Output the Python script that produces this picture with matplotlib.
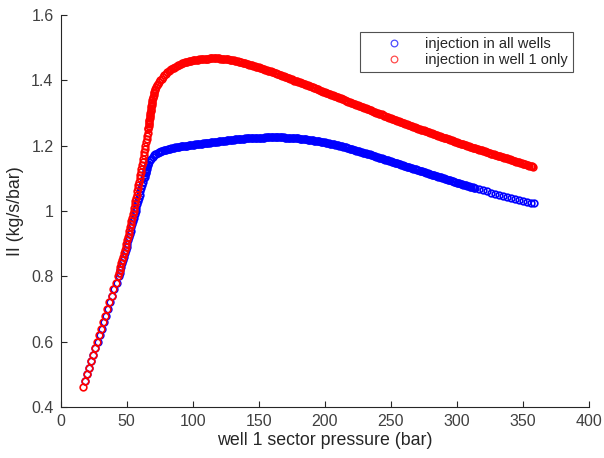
import matplotlib
matplotlib.use("Agg")
import matplotlib.pyplot as plt

# Injectivity index vs. well 1 sector pressure
# --- injection in all wells ---
all_wells_pressure = [
    18.5, 20.0, 21.6, 23.2, 24.8, 26.4, 28.0, 29.6, 31.2, 32.8, 34.4, 36.0, 37.6, 39.2, 40.8, 42.4,
    44.0, 44.7, 45.4, 46.1, 46.8, 47.5, 48.2, 48.9, 49.5, 50.1, 50.7, 51.3, 51.9, 52.5, 53.1, 53.7,
    54.3, 54.9, 55.6, 56.2, 56.8, 57.4, 58.0, 58.6, 59.2, 59.8, 60.5, 61.2, 61.9, 62.6,
    63.3, 63.65, 64.0, 64.35, 64.7, 65.05, 65.4, 65.75, 66.1, 66.5, 67.0, 67.7, 68.6, 69.7, 71.0,
    71.8, 72.6, 73.5, 74.4, 75.4, 76.4, 77.2,
    78, 79, 80, 81, 82, 83, 84, 85, 86, 87, 88, 89, 90, 91, 92, 93, 94, 95, 96, 97,
    98, 99, 100, 101, 102, 103, 104, 105, 106, 107, 108, 109, 110, 111, 112, 113, 114, 115, 116, 117,
    118, 119, 120, 121, 122, 123, 124, 125, 126, 127, 128, 129, 130, 131, 132, 133, 134, 135, 136, 137,
    138, 139, 140, 141, 142, 143, 144, 145, 146, 147, 148, 149, 150, 151, 152, 153, 154, 155, 156, 157,
    158, 159, 160, 161, 162, 163, 164, 165, 166, 167, 168, 169, 170, 171, 172, 173, 174, 175, 176, 177,
    178, 179, 180, 181, 182, 183, 184, 185, 186, 187, 188, 189, 190, 191, 192, 193, 194, 195, 196, 197,
    198, 199, 200, 201, 202, 203, 204, 205, 206, 207, 208, 209, 210, 211, 212, 213, 214, 215, 216, 217,
    218, 219, 220, 221, 222, 223, 224, 225, 226, 227, 228, 229, 230, 231, 232, 233, 234, 235, 236, 237,
    238, 239, 240, 241, 242, 243, 244, 245, 246, 247, 248, 249, 250, 251, 252, 253, 254, 255, 256, 257,
    258, 259, 260, 261, 262, 263, 264, 265, 266, 267, 268, 269, 270, 271, 272, 273, 274, 275, 276, 277,
    278, 279, 280, 281, 282, 283, 284, 285, 286, 287, 288, 289, 290, 291, 292, 293, 294, 295, 296, 297,
    298, 299, 300, 301, 302, 303, 304, 305, 306, 307, 308, 309, 310, 311, 312, 313, 314,
    317, 320, 323, 326, 329, 332, 335, 338, 341, 344, 347, 350, 353, 356, 358.5,
]
all_wells_ii = [
    0.480, 0.500, 0.520, 0.540, 0.560, 0.580, 0.600, 0.620, 0.640, 0.660, 0.680, 0.700, 0.720, 0.740, 0.760, 0.780,
    0.800, 0.810, 0.820, 0.830, 0.840, 0.850, 0.860, 0.870, 0.880, 0.890, 0.900, 0.910, 0.920, 0.930, 0.940, 0.950,
    0.960, 0.970, 0.980, 0.990, 1.000, 1.010, 1.020, 1.030, 1.040, 1.050, 1.060, 1.070, 1.080, 1.090,
    1.100, 1.105, 1.110, 1.115, 1.120, 1.125, 1.130, 1.135, 1.140, 1.145, 1.150, 1.155, 1.160, 1.165, 1.170,
    1.173, 1.175, 1.178, 1.180, 1.182, 1.184, 1.185,
    1.1860, 1.1870, 1.1880, 1.1890, 1.1900, 1.1910, 1.1920, 1.1930, 1.1940, 1.1945,
    1.1950, 1.1960, 1.1970, 1.1975, 1.1980, 1.1985, 1.1990, 1.1995, 1.2000, 1.2010,
    1.2020, 1.2025, 1.2030, 1.2035, 1.2040, 1.2045, 1.2050, 1.2055, 1.2060, 1.2065,
    1.2070, 1.2075, 1.2080, 1.2085, 1.2090, 1.2095, 1.2100, 1.2105, 1.2110, 1.2115,
    1.2120, 1.2125, 1.2130, 1.2135, 1.2140, 1.2145, 1.2150, 1.2155, 1.2160, 1.2165,
    1.2170, 1.2175, 1.2180, 1.2185, 1.2190, 1.2195, 1.2200, 1.2200, 1.2200, 1.2205,
    1.2210, 1.2215, 1.2220, 1.2225, 1.2230, 1.2230, 1.2230, 1.2235, 1.2240, 1.2240,
    1.2240, 1.2245, 1.2250, 1.2250, 1.2250, 1.2250, 1.2250, 1.2255, 1.2260, 1.2260,
    1.2260, 1.2260, 1.2260, 1.2260, 1.2260, 1.2260, 1.2260, 1.2260, 1.2260, 1.2260,
    1.2260, 1.2255, 1.2250, 1.2250, 1.2250, 1.2245, 1.2240, 1.2240, 1.2240, 1.2235,
    1.2230, 1.2225, 1.2220, 1.2215, 1.2210, 1.2205, 1.2200, 1.2195, 1.2190, 1.2185,
    1.2180, 1.2175, 1.2170, 1.2160, 1.2150, 1.2145, 1.2140, 1.2135, 1.2130, 1.2120,
    1.2110, 1.2105, 1.2100, 1.2090, 1.2080, 1.2070, 1.2060, 1.2055, 1.2050, 1.2040,
    1.2030, 1.2020, 1.2010, 1.2000, 1.1990, 1.1980, 1.1970, 1.1960, 1.1950, 1.1935,
    1.1920, 1.1910, 1.1900, 1.1890, 1.1880, 1.1865, 1.1850, 1.1840, 1.1830, 1.1815,
    1.1800, 1.1790, 1.1780, 1.1765, 1.1750, 1.1740, 1.1730, 1.1715, 1.1700, 1.1690,
    1.1680, 1.1665, 1.1650, 1.1635, 1.1620, 1.1610, 1.1600, 1.1585, 1.1570, 1.1560,
    1.1550, 1.1535, 1.1520, 1.1505, 1.1490, 1.1480, 1.1470, 1.1455, 1.1440, 1.1430,
    1.1420, 1.1405, 1.1390, 1.1375, 1.1360, 1.1350, 1.1340, 1.1325, 1.1310, 1.1300,
    1.1290, 1.1275, 1.1260, 1.1245, 1.1230, 1.1220, 1.1210, 1.1195, 1.1180, 1.1170,
    1.1160, 1.1145, 1.1130, 1.1115, 1.1100, 1.1090, 1.1080, 1.1065, 1.1050, 1.1040,
    1.1030, 1.1015, 1.1000, 1.0985, 1.0970, 1.0960, 1.0950, 1.0935, 1.0920, 1.0910,
    1.0900, 1.0885, 1.0870, 1.0860, 1.0850, 1.0835, 1.0820, 1.0810, 1.0800, 1.0785,
    1.0770, 1.0760, 1.0750, 1.0740, 1.0730, 1.0715, 1.0700,
    1.067, 1.063, 1.060, 1.056, 1.053, 1.050, 1.047, 1.044, 1.041, 1.038, 1.035, 1.032, 1.029, 1.026, 1.023,
]

# --- injection in well 1 only ---
well1_pressure = [
    16.8, 18.2, 19.8, 21.3, 22.9, 24.5, 26.0, 27.6, 29.2, 30.7, 32.3, 33.9, 35.4, 37.0, 38.6, 40.1, 41.7,
    43.3, 44.0, 44.7, 45.4, 46.1, 46.8, 47.4, 48.0, 48.7, 49.3, 49.9, 50.4, 51.0, 51.6, 52.1, 52.7,
    53.2, 53.7, 54.2, 54.7, 55.3, 55.7, 56.2, 56.7, 57.1, 57.6, 58.1, 58.5, 59.0, 59.5, 60.0, 60.4,
    60.8, 61.3, 61.7, 62.1, 62.6, 63.0, 63.4, 63.9, 64.3, 64.7, 65.1, 65.5, 65.9, 66.3,
    66.5, 66.7, 66.8, 67.0, 67.2, 67.3, 67.5, 67.7, 67.8, 68.0, 68.2, 68.4, 68.6, 68.8, 69.0, 69.2,
    69.4, 69.6, 69.9, 70.1, 70.4, 70.7, 71.1, 71.5, 71.9, 72.4, 73.1, 73.8, 74.6, 75.5, 76.5, 77.5,
    78.5, 79.6, 80.8,
    82, 83, 84, 85, 86, 87, 88, 89, 90, 91, 92, 93, 94, 95, 96, 97, 98, 99, 100, 101,
    102, 103, 104, 105, 106, 107, 108, 109, 110, 111, 112, 113, 114, 115, 116, 117, 118, 119, 120, 121,
    122, 123, 124, 125, 126, 127, 128, 129, 130, 131, 132, 133, 134, 135, 136, 137, 138, 139, 140, 141,
    142, 143, 144, 145, 146, 147, 148, 149,
    150, 151, 152, 153, 154, 155, 156, 157, 158, 159, 160, 161, 162, 163, 164, 165, 166, 167, 168, 169,
    170, 171, 172, 173, 174, 175, 176, 177, 178, 179, 180, 181, 182, 183, 184, 185, 186, 187, 188, 189,
    190, 191, 192, 193, 194, 195, 196, 197, 198, 199, 200, 201, 202, 203, 204, 205, 206, 207, 208, 209,
    210, 211, 212, 213, 214, 215, 216, 217, 218, 219, 220, 221, 222, 223, 224, 225, 226, 227, 228, 229,
    230, 231, 232, 233, 234, 235, 236, 237, 238, 239, 240, 241, 242, 243, 244, 245, 246, 247, 248, 249,
    250, 251, 252, 253, 254, 255, 256, 257, 258, 259, 260, 261, 262, 263, 264, 265, 266, 267, 268, 269,
    270, 271, 272, 273, 274, 275, 276, 277, 278, 279, 280, 281, 282, 283, 284, 285, 286, 287, 288, 289,
    290, 291, 292, 293, 294, 295, 296, 297, 298, 299, 300, 301, 302, 303, 304, 305, 306, 307, 308, 309,
    310, 311, 312, 313, 314, 315, 316, 317, 318, 319, 320, 321, 322, 323, 324, 325, 326, 327, 328, 329,
    330, 331, 332, 333, 334, 335, 336, 337, 338, 339, 340, 341, 342, 343, 344, 345, 346, 347, 348, 349,
    350, 351, 352, 353, 354, 355, 356, 357, 358,
]
well1_ii = [
    0.462, 0.480, 0.500, 0.520, 0.540, 0.560, 0.580, 0.600, 0.620, 0.640, 0.660, 0.680, 0.700, 0.720, 0.740, 0.760, 0.780,
    0.800, 0.810, 0.820, 0.830, 0.840, 0.850, 0.860, 0.870, 0.880, 0.890, 0.900, 0.910, 0.920, 0.930, 0.940, 0.950,
    0.960, 0.970, 0.980, 0.990, 1.000, 1.010, 1.020, 1.030, 1.040, 1.050, 1.060, 1.070, 1.080, 1.090, 1.100, 1.110,
    1.120, 1.130, 1.140, 1.150, 1.160, 1.170, 1.180, 1.190, 1.200, 1.210, 1.220, 1.230, 1.240, 1.250,
    1.255, 1.260, 1.265, 1.270, 1.275, 1.280, 1.285, 1.290, 1.295, 1.300, 1.305, 1.310, 1.315, 1.320, 1.325, 1.330,
    1.335, 1.340, 1.345, 1.350, 1.355, 1.360, 1.365, 1.370, 1.375, 1.380, 1.385, 1.390, 1.395, 1.400, 1.405, 1.410,
    1.415, 1.420, 1.4245,
    1.4280, 1.4310, 1.4340, 1.4370, 1.4390, 1.4420, 1.4440, 1.4460, 1.4480, 1.4500,
    1.4520, 1.4540, 1.4550, 1.4560, 1.4570, 1.4580, 1.4590, 1.4600, 1.4610, 1.4620,
    1.4620, 1.4630, 1.4630, 1.4640, 1.4640, 1.4650, 1.4650, 1.4660, 1.4660, 1.4660,
    1.4660, 1.4670, 1.4670, 1.4670, 1.4670, 1.4670, 1.4670, 1.4670, 1.4670, 1.4660,
    1.4660, 1.4660, 1.4660, 1.4650, 1.4650, 1.4640, 1.4630, 1.4630, 1.4620, 1.4610,
    1.4600, 1.4590, 1.4580, 1.4570, 1.4560, 1.4550, 1.4540, 1.4530, 1.4520, 1.4510,
    1.4500, 1.4480, 1.4470, 1.4460, 1.4450, 1.4430, 1.4420, 1.4410,
    1.4400, 1.4385, 1.4370, 1.4355, 1.4340, 1.4325, 1.4310, 1.4300, 1.4290, 1.4275,
    1.4260, 1.4245, 1.4230, 1.4215, 1.4200, 1.4185, 1.4170, 1.4155, 1.4140, 1.4125,
    1.4110, 1.4095, 1.4080, 1.4065, 1.4050, 1.4030, 1.4010, 1.3995, 1.3980, 1.3965,
    1.3950, 1.3935, 1.3920, 1.3905, 1.3890, 1.3875, 1.3860, 1.3845, 1.3830, 1.3815,
    1.3800, 1.3785, 1.3770, 1.3755, 1.3740, 1.3720, 1.3700, 1.3685, 1.3670, 1.3655,
    1.3640, 1.3625, 1.3610, 1.3595, 1.3580, 1.3560, 1.3540, 1.3525, 1.3510, 1.3495,
    1.3480, 1.3465, 1.3450, 1.3435, 1.3420, 1.3400, 1.3380, 1.3365, 1.3350, 1.3335,
    1.3320, 1.3305, 1.3290, 1.3275, 1.3260, 1.3240, 1.3220, 1.3205, 1.3190, 1.3175,
    1.3160, 1.3145, 1.3130, 1.3115, 1.3100, 1.3080, 1.3060, 1.3045, 1.3030, 1.3015,
    1.3000, 1.2985, 1.2970, 1.2955, 1.2940, 1.2920, 1.2900, 1.2885, 1.2870, 1.2855,
    1.2840, 1.2825, 1.2810, 1.2795, 1.2780, 1.2765, 1.2750, 1.2735, 1.2720, 1.2705,
    1.2690, 1.2675, 1.2660, 1.2645, 1.2630, 1.2615, 1.2600, 1.2585, 1.2570, 1.2555,
    1.2540, 1.2525, 1.2510, 1.2495, 1.2480, 1.2465, 1.2450, 1.2435, 1.2420, 1.2405,
    1.2390, 1.2375, 1.2360, 1.2345, 1.2330, 1.2320, 1.2310, 1.2295, 1.2280, 1.2265,
    1.2250, 1.2235, 1.2220, 1.2205, 1.2190, 1.2180, 1.2170, 1.2155, 1.2140, 1.2125,
    1.2110, 1.2095, 1.2080, 1.2065, 1.2050, 1.2040, 1.2030, 1.2015, 1.2000, 1.1985,
    1.1970, 1.1955, 1.1940, 1.1930, 1.1920, 1.1905, 1.1890, 1.1880, 1.1870, 1.1855,
    1.1840, 1.1825, 1.1810, 1.1800, 1.1790, 1.1775, 1.1760, 1.1750, 1.1740, 1.1725,
    1.1710, 1.1695, 1.1680, 1.1670, 1.1660, 1.1645, 1.1630, 1.1620, 1.1610, 1.1595,
    1.1580, 1.1565, 1.1550, 1.1540, 1.1530, 1.1515, 1.1500, 1.1490, 1.1480, 1.1465,
    1.1450, 1.1440, 1.1430, 1.1415, 1.1400, 1.1390, 1.1380, 1.1365, 1.1350,
]

x_ticks = [0, 50, 100, 150, 200, 250, 300, 350, 400]
y_ticks = [0.4, 0.6, 0.8, 1.0, 1.2, 1.4, 1.6]
y_tick_labels = ["0.4", "0.6", "0.8", "1", "1.2", "1.4", "1.6"]

plt.rcParams["font.family"] = ["Liberation Sans", "DejaVu Sans"]
axis_gray = "#262626"
text_gray = "#404040"

fig = plt.figure(figsize=(6.04, 4.58), dpi=100)
ax = fig.add_axes([0.1002, 0.1114, 0.8748, 0.8558])

marker_style = dict(linestyle="none", marker="o", markersize=4.8,
                    markerfacecolor="none", markeredgewidth=1.2)
ax.plot(all_wells_pressure, all_wells_ii, color="#0000ff",
        label="injection in all wells", **marker_style)
ax.plot(well1_pressure, well1_ii, color="#ff0000",
        label="injection in well 1 only", **marker_style)

ax.set_xlim(0, 400)
ax.set_ylim(0.4, 1.6)
ax.set_xticks(x_ticks)
ax.set_yticks(y_ticks)
ax.set_yticklabels(y_tick_labels)

for side in ("top", "right"):
    ax.spines[side].set_visible(False)
for side in ("left", "bottom"):
    ax.spines[side].set_color(axis_gray)
    ax.spines[side].set_linewidth(0.8)

ax.tick_params(direction="in", length=4, width=0.8, color=axis_gray,
               labelsize=11.5, labelcolor=text_gray, pad=5)

ax.set_xlabel("well 1 sector pressure (bar)", fontsize=12.8, color=axis_gray, labelpad=2)
ax.set_ylabel("II (kg/s/bar)", fontsize=12.8, color=axis_gray, labelpad=5)

leg = ax.legend(loc="upper right", bbox_to_anchor=(0.970, 0.957), borderaxespad=0,
                fontsize=10.5, frameon=True, fancybox=False, handlelength=4.0,
                handletextpad=0.15, borderpad=0.35, labelspacing=0.15,
                markerscale=1.0)
leg.get_frame().set_edgecolor(axis_gray)
leg.get_frame().set_linewidth(0.8)
for txt in leg.get_texts():
    txt.set_color(axis_gray)
for h in leg.legend_handles:
    h.set_alpha(0.7)
    h.set_markeredgewidth(0.9)

fig.savefig("out.png", dpi=100)
